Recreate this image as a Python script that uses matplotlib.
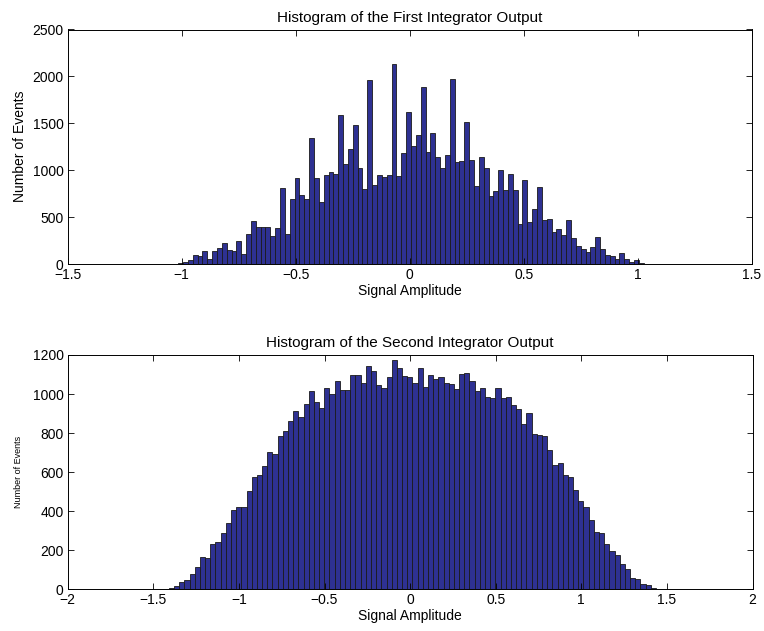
import numpy as np
import matplotlib
matplotlib.use("Agg")
import matplotlib.pyplot as plt

plt.rcParams['font.family'] = ['Liberation Sans', 'DejaVu Sans']
plt.rcParams['axes.unicode_minus'] = True

# ---------------- data ----------------
# First integrator output histogram (100 bins)
first_range = (-1.058, 1.069)
first_counts = [1,
    5, 10, 18, 43, 96, 85, 139, 50, 139, 167, 228, 149, 139, 242, 110, 320, 459, 395, 398, 391, 299, 384, 814, 320,
    690, 914, 736, 693, 1344, 917, 658, 953, 985, 960, 1586, 1063, 1230, 1479, 1028, 804, 1959, 843, 949, 925, 946,
    2137, 935, 1188, 1618, 1255,
    1373, 1892, 1191, 1394, 1138, 1024, 1163, 1970, 1085, 1095, 1511, 1106, 829, 1145, 1024, 722, 782, 999, 793, 957,
    789, 430, 896, 444, 590, 818,
    469, 476, 345, 373, 313, 473, 274, 196, 156, 124, 181, 284, 164, 92, 85, 53, 114, 50, 18, 39, 7,
    3, 1]

# Second integrator output histogram (100 bins)
second_range = (-1.50, 1.527)
second_counts = [1, 1,
    2, 9, 19, 36, 46, 79, 116, 167, 160, 230, 241, 288, 338, 405, 420, 420, 505, 574, 584, 630, 702, 693,
    785, 811, 862, 911, 883, 947, 1014, 958, 929, 1031, 999, 1065, 1019, 1019, 1098, 1098, 1057, 1142, 1118,
    1046, 1029, 1087, 1173, 1132, 1094,
    1089, 1055, 1132, 1036, 1098, 1075, 1086, 1058, 1053, 1028, 1103, 1108, 1065, 1014, 1033, 987, 980, 1033,
    978, 985, 942, 922, 847, 901,
    794, 790, 785, 712, 637, 645, 586, 574, 507, 452, 420, 353, 292, 287, 230, 196, 174, 128, 102, 58, 51,
    27, 22, 5,
    2, 1, 1]

top_xticks = [-1.5, -1, -0.5, 0, 0.5, 1, 1.5]
top_yticks = [0, 500, 1000, 1500, 2000, 2500]
bot_xticks = [-2, -1.5, -1, -0.5, 0, 0.5, 1, 1.5, 2]
bot_yticks = [0, 200, 400, 600, 800, 1000, 1200]

top_title = "Histogram of the First Integrator Output"
bot_title = "Histogram of the Second Integrator Output"
xlabel = "Signal Amplitude"
ylabel = "Number of Events"

# ---------------- plot ----------------
W, H = 764, 631
fig = plt.figure(figsize=(W / 100, H / 100), dpi=100)
face = '#2e3192'


def tick_fmt(v):
    s = ('%g' % v)
    return s.replace('-', '\u2212')


def draw(ax, counts, rng, xlim, xticks, ylim, yticks, title, ylab, ylab_size, ylab_pad):
    n = len(counts)
    edges = np.linspace(rng[0], rng[1], n + 1)
    ax.bar(edges[:-1], counts, width=np.diff(edges), align='edge',
           facecolor=face, edgecolor='#1a1a1a', linewidth=0.6)
    ax.set_xlim(*xlim)
    ax.set_ylim(*ylim)
    ax.set_xticks(xticks)
    ax.set_xticklabels([tick_fmt(v) for v in xticks])
    ax.set_yticks(yticks)
    ax.set_yticklabels([tick_fmt(v) for v in yticks])
    ax.tick_params(direction='in', top=True, right=True, length=4, width=0.6,
                   labelsize=10, pad=3)
    for s in ax.spines.values():
        s.set_linewidth(0.7)
    ax.set_title(title, fontsize=11, pad=5.5)
    ax.set_xlabel(xlabel, fontsize=10, labelpad=1)
    ax.set_ylabel(ylab, fontsize=ylab_size, labelpad=ylab_pad)


ax1 = fig.add_axes([67.7 / W, 1 - 264 / H, 684 / W, 234.5 / H])
draw(ax1, first_counts, first_range, (-1.5, 1.5), top_xticks, (0, 2500), top_yticks,
     top_title, ylabel, 10, 4)

ax2 = fig.add_axes([67.7 / W, 1 - 589.3 / H, 684.8 / W, 234.3 / H])
draw(ax2, second_counts, second_range, (-2, 2), bot_xticks, (0, 1200), bot_yticks,
     bot_title, ylabel, 6.5, 7)

fig.savefig('out.png', dpi=100)
